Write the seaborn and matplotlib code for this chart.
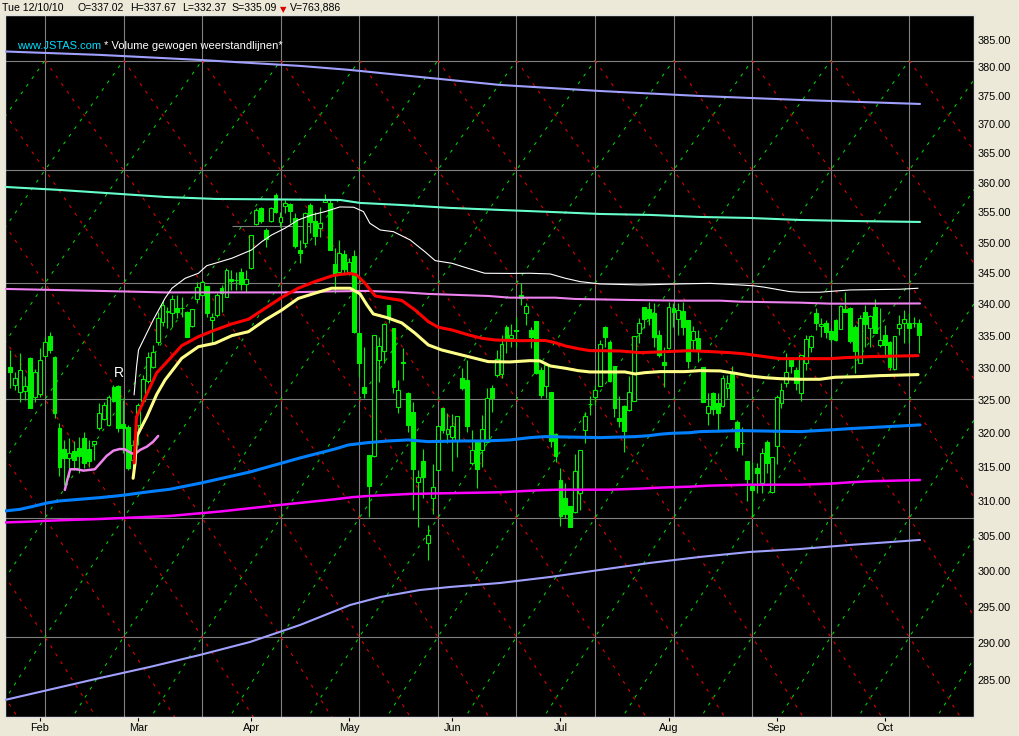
import numpy as np
import matplotlib
matplotlib.use("Agg")
import matplotlib.pyplot as plt
from matplotlib.ticker import FixedLocator, NullLocator, FuncFormatter
import seaborn as sns

# daily candles, 22 Jan 2010 .. 12 Oct 2010 (bar index 0..185)
opens = [330.16, 327.33, 326.26, 326.50, 331.60, 325.49, 326.00, 331.91, 335.04, 331.76,
         320.88, 317.73, 316.30, 317.38, 317.88, 319.38, 317.73, 318.38, 320.88, 322.19,
         321.29, 327.02, 327.27, 321.39, 320.94, 316.05, 321.29, 324.93, 327.99, 330.20,
         334.05, 337.20, 338.84, 338.58, 339.48, 339.38, 338.84, 336.62, 340.86, 341.50,
         342.95, 337.47, 338.26, 342.58, 341.23, 344.08, 343.92, 345.16, 343.28, 345.80,
         353.03, 355.74, 352.08, 353.62, 357.92, 353.46, 356.13, 356.41, 354.12, 348.79,
         350.00, 356.24, 353.62, 352.46, 356.70, 356.63, 346.46, 345.26, 348.14, 345.26,
         347.81, 335.42, 327.12, 316.79, 316.69, 331.24, 332.69, 339.91, 336.26, 324.05,
         330.80, 326.20, 323.25, 312.84, 315.95, 303.98, 310.49, 314.57, 323.81, 319.93,
         319.44, 319.03, 328.45, 328.14, 315.65, 318.78, 317.53, 318.78, 326.92, 328.91,
         329.02, 336.37, 334.63, 335.90, 341.50, 338.58, 335.94, 337.36, 329.69, 327.27,
         326.30, 319.93, 313.09, 310.46, 309.29, 308.38, 311.24, 320.53, 324.50, 325.58,
         327.27, 336.46, 334.10, 330.31, 322.39, 324.21, 323.55, 324.97, 335.51, 339.59,
         339.27, 338.58, 335.10, 330.98, 333.11, 339.48, 337.63, 338.95, 337.52, 334.36,
         334.63, 330.11, 323.05, 326.20, 324.54, 324.17, 326.96, 329.07, 321.69, 318.53,
         315.90, 312.21, 314.87, 312.70, 318.73, 311.38, 318.13, 324.57, 327.73, 331.35,
         329.69, 326.20, 330.73, 333.20, 338.68, 336.62, 337.00, 335.78, 337.52, 336.10,
         339.27, 339.48, 336.46, 330.82, 338.84, 336.31, 339.64, 333.58, 335.15, 334.10,
         329.80, 336.31, 337.00, 337.10, 337.10, 337.02]
highs = [332.80, 329.38, 332.33, 328.76, 331.70, 329.85, 333.11, 334.83, 335.62, 331.86,
         321.59, 319.03, 319.33, 318.88, 319.48, 320.23, 319.03, 318.88, 324.62, 324.77,
         325.84, 327.37, 327.37, 325.08, 321.29, 319.03, 324.62, 328.91, 332.49, 333.58,
         338.79, 340.70, 339.64, 341.50, 341.50, 341.23, 338.90, 339.25, 343.65, 343.70,
         343.00, 338.58, 341.77, 343.11, 345.80, 345.53, 345.26, 345.90, 345.53, 351.30,
         355.69, 355.96, 352.36, 355.96, 358.20, 355.13, 357.08, 356.53, 354.86, 350.44,
         355.13, 356.53, 355.13, 355.96, 358.09, 357.08, 349.07, 350.44, 348.79, 347.49,
         348.79, 335.45, 333.31, 316.80, 335.15, 334.88, 337.00, 339.95, 336.30, 328.14,
         333.07, 326.25, 324.82, 314.57, 317.68, 306.55, 315.46, 321.20, 323.85, 323.05,
         322.94, 322.70, 329.95, 331.24, 320.53, 319.03, 322.80, 326.87, 327.37, 332.80,
         335.15, 336.73, 336.89, 338.05, 343.36, 340.17, 336.46, 337.40, 330.20, 330.73,
         326.35, 320.00, 314.82, 312.70, 309.30, 316.89, 317.55, 323.20, 325.66, 327.37,
         334.36, 336.57, 334.36, 330.35, 325.69, 324.25, 328.80, 335.05, 337.79, 339.64,
         340.43, 340.17, 335.94, 333.31, 340.43, 340.17, 340.17, 340.43, 337.55, 336.57,
         335.94, 330.15, 326.10, 326.25, 326.10, 328.91, 328.91, 330.31, 321.93, 321.03,
         315.95, 315.80, 315.56, 317.78, 319.03, 316.54, 325.84, 327.63, 332.38, 331.50,
         330.11, 332.05, 335.15, 335.15, 339.38, 337.79, 337.52, 336.21, 337.63, 339.91,
         342.04, 339.64, 336.73, 338.32, 339.91, 338.32, 340.86, 339.38, 336.73, 334.15,
         335.05, 338.32, 339.11, 338.58, 337.95, 337.67]
lows = [326.92, 326.61, 324.77, 325.08, 323.80, 324.77, 325.54, 331.71, 332.33, 322.34,
        313.68, 312.36, 313.53, 314.57, 314.13, 314.87, 315.02, 316.05, 320.53, 322.04,
        321.14, 324.77, 320.23, 317.08, 314.57, 314.87, 318.28, 324.77, 327.68, 330.00,
        333.58, 336.57, 336.21, 336.46, 337.79, 338.05, 334.78, 336.46, 340.17, 341.34,
        338.05, 333.85, 338.05, 338.84, 341.20, 342.31, 342.31, 342.31, 342.04, 345.75,
        352.92, 353.20, 349.34, 353.47, 354.90, 352.63, 354.86, 353.19, 349.07, 346.72,
        349.34, 351.54, 349.61, 350.98, 356.70, 348.79, 341.78, 345.00, 345.05, 344.73,
        335.42, 328.66, 325.34, 307.75, 316.50, 327.88, 330.73, 337.00, 326.10, 323.05,
        328.14, 320.28, 308.71, 306.31, 310.42, 301.55, 308.13, 314.50, 320.03, 318.53,
        314.47, 316.54, 326.61, 320.28, 315.31, 311.88, 315.06, 318.53, 323.29, 328.56,
        328.40, 332.28, 333.22, 333.31, 339.91, 336.73, 333.07, 329.07, 325.34, 325.34,
        318.03, 315.80, 306.45, 307.52, 306.30, 308.23, 308.71, 318.53, 322.80, 324.32,
        327.25, 333.22, 327.88, 322.54, 321.03, 317.28, 323.45, 324.95, 333.85, 336.21,
        336.73, 333.31, 331.76, 327.12, 332.91, 336.46, 335.15, 335.15, 329.95, 332.80,
        330.98, 324.70, 321.29, 322.80, 320.28, 324.05, 325.34, 322.14, 317.43, 316.79,
        310.07, 307.75, 311.15, 311.24, 314.08, 311.15, 315.46, 323.81, 327.12, 329.18,
        326.61, 324.90, 329.69, 332.53, 335.94, 334.88, 334.63, 334.10, 334.25, 336.05,
        338.74, 333.85, 329.27, 330.73, 333.31, 333.31, 335.42, 333.22, 331.76, 329.69,
        329.69, 335.15, 333.85, 333.85, 336.46, 332.37]
closes = [329.38, 328.40, 329.69, 327.27, 323.90, 329.33, 331.24, 334.00, 332.80, 323.14,
          315.06, 316.39, 317.04, 316.05, 316.69, 315.65, 315.86, 318.88, 323.05, 324.32,
          325.49, 324.97, 320.88, 320.88, 314.82, 318.28, 324.32, 328.25, 331.71, 332.44,
          337.84, 339.91, 338.90, 340.86, 338.84, 339.40, 334.88, 339.22, 342.84, 343.65,
          338.58, 338.00, 341.45, 341.77, 345.53, 343.71, 343.95, 343.32, 344.08, 351.26,
          355.41, 353.58, 350.55, 355.74, 355.08, 354.19, 356.58, 355.24, 349.50, 348.35,
          354.86, 353.46, 351.10, 353.19, 357.08, 348.79, 344.84, 348.25, 345.64, 346.79,
          335.67, 330.73, 326.10, 312.26, 335.10, 333.42, 336.89, 337.95, 327.12, 326.61,
          330.85, 321.29, 314.72, 313.49, 313.58, 305.12, 312.02, 321.13, 320.53, 320.64,
          321.18, 322.68, 326.96, 321.18, 317.53, 314.72, 320.64, 325.34, 325.43, 331.35,
          333.69, 334.47, 335.15, 335.85, 340.97, 339.75, 334.88, 329.18, 325.89, 330.47,
          318.88, 316.64, 307.85, 308.13, 306.31, 314.42, 317.53, 322.69, 324.45, 326.61,
          333.74, 334.78, 328.03, 323.90, 321.93, 320.43, 326.26, 335.04, 337.00, 337.63,
          337.79, 334.78, 332.02, 330.47, 339.54, 338.84, 339.11, 336.46, 331.09, 335.78,
          332.96, 324.77, 324.17, 323.66, 323.05, 328.40, 327.63, 322.19, 318.03, 318.50,
          313.24, 311.63, 314.17, 317.04, 315.56, 316.45, 325.49, 326.61, 329.33, 330.31,
          327.63, 332.02, 334.47, 335.00, 337.00, 336.84, 335.58, 334.52, 334.36, 339.75,
          338.84, 334.20, 332.69, 337.79, 336.89, 338.16, 335.51, 334.36, 333.58, 330.20,
          335.00, 336.89, 337.63, 336.31, 337.05, 335.09]

month_pos = [6, 26, 49, 69, 90, 112, 134, 156, 178]
month_lbl = ["Feb", "Mar", "Apr", "May", "Jun", "Jul", "Aug", "Sep", "Oct"]
price_ticks = list(range(285, 390, 5))

# volume weighted resistance lines (x = bar index)
top_x = [-1.1, 18.3, 38.6, 59.0, 69.2, 79.3, 89.5, 99.7, 109.9, 120.0, 140.4, 160.8, 185.2]
top_y = [382.86, 382.24, 381.34, 380.27, 379.55, 378.66, 377.77, 376.89, 376.35, 375.82,
         374.94, 374.24, 373.54]
aqua_x = [-1.1, 10.1, 22.3, 31.5, 41.7, 67.1, 71.2, 79.3, 89.5, 99.7, 109.9, 120.0, 130.2,
          140.4, 150.6, 160.8, 171.0, 185.2]
aqua_y = [359.27, 358.76, 358.09, 357.58, 357.25, 357.08, 356.58, 356.25, 355.75, 355.41,
          355.08, 354.74, 354.58, 354.24, 354.07, 353.74, 353.57, 353.41]
violet_x = [-1.1, 18.3, 31.5, 55.9, 65.1, 72.8, 80.4, 85.0, 97.3, 101.7, 110.9, 115.0, 126.2,
            136.3, 144.5, 148.6, 160.8, 166.9, 185.2]
violet_y = [342.47, 342.15, 341.91, 341.91, 342.07, 342.15, 341.91, 341.67, 341.34, 341.07,
            341.07, 340.86, 340.70, 340.59, 340.59, 340.43, 340.27, 340.11, 340.14]
white_x = [25.2, 25.7, 26.1, 27.8, 29.1, 31.5, 32.9, 35.6, 38.3, 40.0, 41.7, 45.1, 49.1, 51.2,
           53.2, 55.9, 58.6, 61.4, 64.1, 67.1, 69.9, 71.9, 73.2, 75.3, 78.0, 81.4, 84.4, 86.5,
           89.9, 93.2, 96.6, 101.7, 105.8, 109.9, 113.0, 116.0, 120.0, 128.2, 136.3, 142.4,
           148.6, 151.6, 153.6, 156.7, 158.7, 160.8, 164.8, 166.9, 171.0, 181.1, 184.8]
white_y = [325.85, 330.20, 332.80, 335.47, 337.52, 340.97, 342.58, 344.19, 345.00, 346.23,
           346.62, 347.44, 348.79, 350.16, 351.26, 352.36, 353.74, 354.58, 355.13, 355.91,
           355.86, 355.13, 353.19, 352.08, 351.80, 350.44, 348.51, 347.05, 346.62, 345.80,
           345.00, 344.97, 345.00, 344.89, 344.19, 343.65, 343.28, 343.11, 343.28, 343.37,
           343.11, 342.95, 342.74, 342.31, 342.04, 341.94, 341.94, 342.07, 342.31, 342.42, 342.58]
red_x = [25.2, 25.7, 27.8, 29.8, 31.5, 34.9, 38.3, 41.7, 45.1, 48.5, 51.9, 55.3, 58.6, 62.0,
         65.4, 67.1, 69.2, 70.5, 72.2, 74.3, 76.9, 79.7, 82.4, 85.1, 87.1, 89.9, 93.3, 96.0,
         98.7, 103.8, 108.9, 110.9, 113.0, 115.6, 118.0, 124.1, 128.2, 132.3, 138.4, 142.4,
         146.5, 149.6, 152.6, 156.7, 166.9, 169.9, 175.0, 184.8]
red_y = [315.61, 322.49, 326.00, 329.23, 330.62, 333.47, 334.88, 335.94, 336.89, 337.63,
         339.38, 341.13, 342.58, 343.65, 344.56, 344.80, 344.97, 344.73, 343.39, 341.34,
         340.97, 340.62, 339.11, 337.25, 336.37, 335.94, 335.15, 334.63, 334.36, 334.25,
         334.28, 333.94, 333.42, 333.00, 332.69, 332.64, 332.38, 332.49, 332.69, 332.54,
         332.38, 332.18, 331.86, 331.44, 331.44, 331.60, 331.76, 331.91]
yellow_x = [25.0, 25.4, 25.7, 26.4, 27.8, 29.8, 31.5, 34.9, 38.3, 41.7, 45.1, 48.5, 51.9, 55.3,
            58.6, 62.0, 65.4, 69.2, 71.2, 72.6, 73.9, 76.6, 79.7, 82.4, 85.1, 87.8, 90.5, 94.6,
            97.3, 101.7, 105.8, 107.8, 109.9, 113.0, 115.6, 118.0, 125.1, 127.2, 129.2, 132.3,
            137.3, 140.4, 144.5, 147.5, 150.6, 153.6, 156.7, 160.8, 164.8, 167.9, 173.0, 177.0, 184.8]
yellow_y = [313.34, 315.61, 319.48, 320.53, 322.54, 325.92, 328.14, 331.50, 333.31, 333.85,
            335.04, 335.67, 337.52, 339.11, 340.94, 341.78, 342.58, 342.58, 341.67, 339.91,
            338.47, 337.91, 337.05, 335.42, 333.58, 332.80, 332.28, 331.50, 330.98, 330.93,
            331.13, 331.09, 330.31, 329.95, 329.58, 329.38, 329.38, 329.07, 329.27, 329.43,
            329.43, 329.58, 329.54, 329.18, 328.76, 328.50, 328.34, 328.25, 328.25, 328.56,
            328.66, 328.81, 328.97]
blue_x = [-1.1, 2.0, 4.6, 7.5, 10.1, 14.2, 18.3, 22.3, 25.0, 28.4, 32.5, 38.6, 48.8, 59.0, 66.1,
          68.8, 72.8, 76.9, 81.0, 85.0, 92.0, 96.6, 101.7, 105.8, 108.9, 120.0, 127.2, 130.2,
          132.3, 134.7, 138.4, 140.4, 148.6, 160.8, 167.9, 171.0, 185.2]
blue_y = [308.57, 308.81, 309.23, 309.73, 310.03, 310.27, 310.51, 310.80, 311.05, 311.38,
          311.73, 312.61, 314.27, 316.35, 317.68, 318.28, 318.63, 318.88, 319.03, 318.78,
          318.88, 318.88, 319.03, 319.38, 319.53, 319.38, 319.53, 319.68, 319.89, 320.03,
          320.12, 320.28, 320.43, 320.28, 320.58, 320.73, 321.29]
magenta_x = [-1.1, 4.0, 8.1, 12.2, 18.3, 24.4, 32.5, 42.7, 54.9, 66.1, 69.5, 72.8, 77.3, 81.4,
             92.0, 99.7, 103.8, 107.8, 111.9, 122.1, 128.2, 132.3, 138.4, 142.4, 150.6, 160.8,
             166.9, 171.0, 175.0, 185.2]
magenta_y = [306.91, 307.03, 307.17, 307.27, 307.41, 307.60, 307.85, 308.49, 309.44, 310.27,
             310.56, 310.75, 310.90, 311.05, 311.19, 311.29, 311.44, 311.59, 311.67, 311.67,
             311.82, 311.97, 312.11, 312.26, 312.40, 312.40, 312.55, 312.75, 312.90, 313.09]
low_x = [-1.1, 18.3, 28.4, 38.6, 48.8, 59.0, 65.1, 69.2, 75.4, 83.4, 89.5, 99.7, 109.9, 120.0,
         130.2, 140.4, 150.6, 160.8, 171.0, 185.2]
low_y = [282.37, 285.30, 286.78, 288.40, 290.16, 292.49, 294.14, 295.25, 296.36, 297.33,
         297.75, 298.31, 299.15, 300.14, 301.13, 301.98, 302.69, 303.11, 303.69, 304.40]
pink_x = [11.1, 11.5, 12.2, 13.5, 14.9, 17.2, 18.3, 19.6, 21.0, 22.3, 23.3, 24.7, 25.4, 26.4,
          27.8, 29.1, 30.1]
pink_y = [311.63, 312.84, 314.67, 314.67, 314.47, 314.67, 315.56, 316.64, 317.43, 317.68,
          317.63, 317.04, 316.94, 317.53, 318.03, 318.78, 319.63]
res_x = [45.1, 61.0]
res_y = 352.74

sns.set_theme(style="dark")
plt.rcParams["font.family"] = ["Liberation Sans", "DejaVu Sans"]

BG = "#ECE9D8"
GREEN = "#00F000"
fig = plt.figure(figsize=(10.19, 7.36), dpi=100, facecolor=BG)
ax = fig.add_axes([5 / 1019, 19 / 736, 969 / 1019, 702 / 736])
ax.set_facecolor("black")

# background grid + diamond pattern (pixel layout of the plot box, top-left origin)
W, H = 969.0, 702.0
cols = 40.0 + 78.57 * np.arange(-1, 14)
rows = np.array([45.5, 155.0, 268.3, 384.3, 503.0, 622.0, 745.0])


def axpt(px, py):
    return np.asarray(px) / W, 1 - np.asarray(py) / H


for cx in cols:
    ax.plot(*axpt([cx, cx], [0, H]), transform=ax.transAxes, color="#808080", lw=0.8, zorder=1)
for ry in rows[:-1]:
    ax.plot(*axpt([0, W], [ry, ry]), transform=ax.transAxes, color="#808080", lw=0.8, zorder=1)
nc, nr = len(cols), len(rows)
for n in range(-nc, nr + nc):
    red = [(i, i + n) for i in range(nc) if 0 <= i + n < nr]
    grn = [(i, n - i) for i in range(nc) if 0 <= n - i < nr]
    for pts, col in ((red, "#E80000"), (grn, "#00D800")):
        if len(pts) < 2:
            continue
        ax.plot(*axpt([cols[i] for i, j in pts], [rows[j] for i, j in pts]),
                transform=ax.transAxes, color=col, lw=0.75, dashes=(3, 6), zorder=1)

ax.hlines(res_y, res_x[0], res_x[1], color="#808080", lw=0.8, zorder=2)

# candles
o = np.array(opens)
c = np.array(closes)
xs = np.arange(len(o))
up = c >= o
ax.vlines(xs, lows, highs, color=GREEN, lw=0.8, zorder=3)
ax.bar(xs[up], c[up] - o[up], bottom=o[up], width=0.78, facecolor="black",
       edgecolor=GREEN, linewidth=0.8, zorder=4)
ax.bar(xs[~up], o[~up] - c[~up], bottom=c[~up], width=0.78, facecolor=GREEN,
       edgecolor=GREEN, linewidth=0.8, zorder=4)

lines = [
    (top_x, top_y, "#A0A0FF", 1.5),
    (aqua_x, aqua_y, "#66FFCC", 1.5),
    (low_x, low_y, "#A0A0FF", 1.5),
    (violet_x, violet_y, "#EE82EE", 1.5),
    (magenta_x, magenta_y, "#FF00FF", 1.8),
    (blue_x, blue_y, "#0080FF", 2.2),
    (white_x, white_y, "#FFFFFF", 0.8),
    (pink_x, pink_y, "#EE82EE", 1.8),
    (yellow_x, yellow_y, "#FFFF88", 2.2),
    (red_x, red_y, "#FF0000", 2.2),
]
for lx, ly, col, lw in lines:
    sns.lineplot(x=lx, y=ly, ax=ax, color=col, linewidth=lw, sort=False,
                 estimator=None, zorder=5)

ax.text(22.2, 329.2, "R", color="white", fontsize=10, ha="center", va="center", zorder=6)

ax.set_yscale("log")
ax.set_ylim(280.12, 389.47)
ax.set_xlim(-1.08, 196.19)
ax.yaxis.set_major_locator(FixedLocator(price_ticks))
ax.yaxis.set_minor_locator(NullLocator())
ax.yaxis.set_major_formatter(FuncFormatter(lambda v, p: f"{v:.2f}"))
ax.yaxis.tick_right()
ax.tick_params(axis="y", which="both", length=0, pad=2.5, labelsize=7.8,
               labelcolor="black", left=False, right=False)
ax.set_xticks(month_pos, month_lbl)
ax.tick_params(axis="x", length=3, width=0.8, color="black", pad=1.5,
               labelsize=7.8, labelcolor="black", direction="out", bottom=True)
ax.set_xlabel("")
ax.set_ylabel("")
ax.grid(False)
for s in ax.spines.values():
    s.set_visible(True)
    s.set_color("#E0E0E0")
    s.set_linewidth(1)

ax.text(12.3 / W, 1 - 31 / H, "www.JSTAS.com", transform=ax.transAxes, color="#00E0FF",
        fontsize=8, va="center", ha="left", zorder=6)
ax.text(98.5 / W, 1 - 31 / H, "* Volume gewogen weerstandlijnen*", transform=ax.transAxes,
        color="white", fontsize=8, va="center", ha="left", zorder=6)

# header line
hy = 1 - 8 / 736
for px, txt in [(1.7, "Tue 12/10/10"), (77.3, "O=337.02"), (130, "H=337.67"),
                (181.7, "L=332.37"), (231.7, "S=335.09"), (290, "V=763,886")]:
    fig.text(px / 1019, hy, txt, fontsize=7.6, color="black", ha="left", va="center")
fig.text(283.3 / 1019, 1 - 9.5 / 736, "\u25bc", fontsize=6, color="#E00000",
         ha="center", va="center", family=["DejaVu Sans"])

fig.savefig("out.png", dpi=100, facecolor=BG)
